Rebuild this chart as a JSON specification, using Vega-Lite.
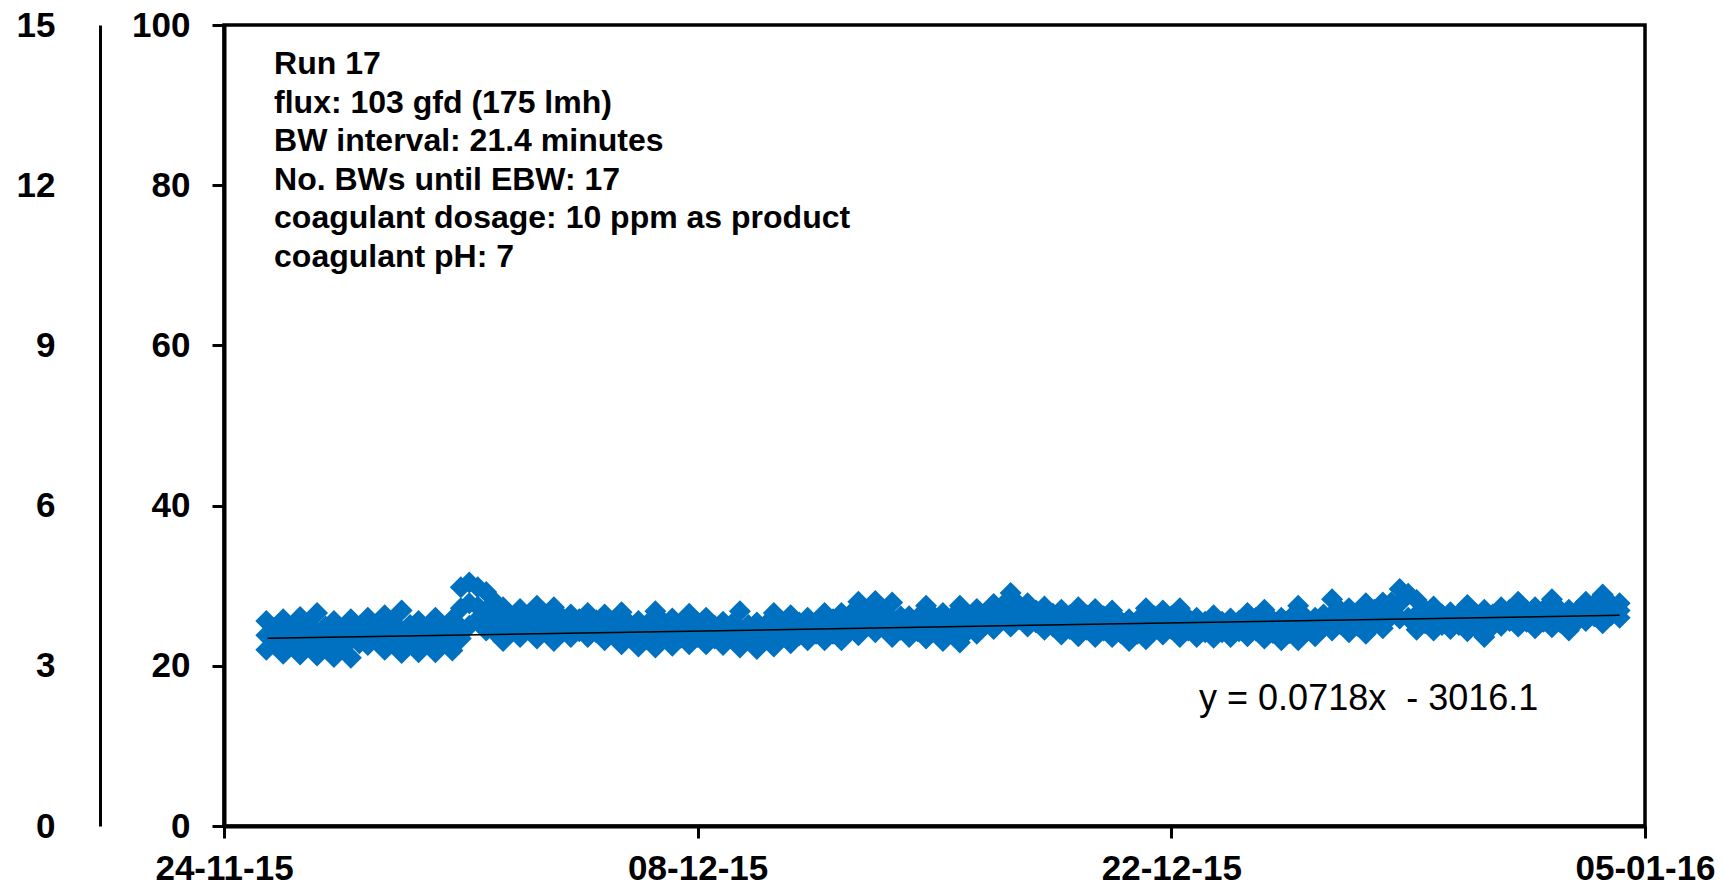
{
  "$schema": "https://vega.github.io/schema/vega-lite/v6.json",
  "width": 1421,
  "height": 801,
  "autosize": {"type": "none"},
  "padding": {"left": 224, "top": 25, "right": 80, "bottom": 62},
  "background": "white",
  "config": {"view": {"stroke": "black", "strokeWidth": 3.5}, "font": "Liberation Sans"},
  "datasets": {
    "pts": [
      {"t":"2015-11-25T06:00","v":25.6},{"t":"2015-11-25T06:00","v":23.8},{"t":"2015-11-25T06:00","v":22.0},
      {"t":"2015-11-25T12:00","v":24.7},{"t":"2015-11-25T12:00","v":22.7},
      {"t":"2015-11-25T18:00","v":25.8},{"t":"2015-11-25T18:00","v":23.6},{"t":"2015-11-25T18:00","v":21.5},
      {"t":"2015-11-26T00:00","v":24.8},{"t":"2015-11-26T00:00","v":22.6},
      {"t":"2015-11-26T06:00","v":26.1},{"t":"2015-11-26T06:00","v":23.8},{"t":"2015-11-26T06:00","v":21.4},
      {"t":"2015-11-26T12:00","v":25.1},{"t":"2015-11-26T12:00","v":22.6},
      {"t":"2015-11-26T18:00","v":26.6},{"t":"2015-11-26T18:00","v":24.0},{"t":"2015-11-26T18:00","v":21.3},
      {"t":"2015-11-27T00:00","v":24.9},{"t":"2015-11-27T00:00","v":22.4},
      {"t":"2015-11-27T06:00","v":25.6},{"t":"2015-11-27T06:00","v":23.4},{"t":"2015-11-27T06:00","v":21.1},
      {"t":"2015-11-27T12:00","v":24.5},{"t":"2015-11-27T12:00","v":22.2},
      {"t":"2015-11-27T18:00","v":25.8},{"t":"2015-11-27T18:00","v":23.4},{"t":"2015-11-27T18:00","v":21.0},
      {"t":"2015-11-28T00:00","v":24.9},{"t":"2015-11-28T00:00","v":22.8},
      {"t":"2015-11-28T06:00","v":26.0},{"t":"2015-11-28T06:00","v":24.3},{"t":"2015-11-28T06:00","v":22.6},
      {"t":"2015-11-28T12:00","v":25.2},{"t":"2015-11-28T12:00","v":23.3},
      {"t":"2015-11-28T18:00","v":26.3},{"t":"2015-11-28T18:00","v":24.2},{"t":"2015-11-28T18:00","v":22.0},
      {"t":"2015-11-29T00:00","v":25.4},{"t":"2015-11-29T00:00","v":23.0},
      {"t":"2015-11-29T06:00","v":26.9},{"t":"2015-11-29T06:00","v":24.2},{"t":"2015-11-29T06:00","v":21.6},
      {"t":"2015-11-29T12:00","v":25.1},{"t":"2015-11-29T12:00","v":22.8},
      {"t":"2015-11-29T18:00","v":25.6},{"t":"2015-11-29T18:00","v":23.6},{"t":"2015-11-29T18:00","v":21.7},
      {"t":"2015-11-30T00:00","v":24.8},{"t":"2015-11-30T00:00","v":22.7},
      {"t":"2015-11-30T06:00","v":26.0},{"t":"2015-11-30T06:00","v":23.8},{"t":"2015-11-30T06:00","v":21.7},
      {"t":"2015-11-30T12:00","v":24.9},{"t":"2015-11-30T12:00","v":22.8},
      {"t":"2015-11-30T18:00","v":25.8},{"t":"2015-11-30T18:00","v":23.8},{"t":"2015-11-30T18:00","v":21.9},
      {"t":"2015-12-01T00:00","v":29.8},{"t":"2015-12-01T00:00","v":27.2},{"t":"2015-12-01T00:00","v":24.8},{"t":"2015-12-01T00:00","v":23.4},
      {"t":"2015-12-01T06:00","v":30.4},{"t":"2015-12-01T06:00","v":27.8},{"t":"2015-12-01T06:00","v":25.0},
      {"t":"2015-12-01T12:00","v":29.8},{"t":"2015-12-01T12:00","v":27.4},{"t":"2015-12-01T12:00","v":25.8},
      {"t":"2015-12-01T18:00","v":29.2},{"t":"2015-12-01T18:00","v":26.8},{"t":"2015-12-01T18:00","v":24.4},
      {"t":"2015-12-02T00:00","v":28.0},{"t":"2015-12-02T00:00","v":26.0},{"t":"2015-12-02T00:00","v":24.2},
      {"t":"2015-12-02T06:00","v":27.3},{"t":"2015-12-02T06:00","v":25.2},{"t":"2015-12-02T06:00","v":23.1},
      {"t":"2015-12-02T12:00","v":26.2},{"t":"2015-12-02T12:00","v":24.3},
      {"t":"2015-12-02T18:00","v":27.1},{"t":"2015-12-02T18:00","v":25.4},{"t":"2015-12-02T18:00","v":23.6},
      {"t":"2015-12-03T00:00","v":26.4},{"t":"2015-12-03T00:00","v":24.5},
      {"t":"2015-12-03T06:00","v":27.5},{"t":"2015-12-03T06:00","v":25.4},{"t":"2015-12-03T06:00","v":23.4},
      {"t":"2015-12-03T12:00","v":26.4},{"t":"2015-12-03T12:00","v":24.3},
      {"t":"2015-12-03T18:00","v":27.3},{"t":"2015-12-03T18:00","v":25.2},{"t":"2015-12-03T18:00","v":23.1},
      {"t":"2015-12-04T00:00","v":26.0},{"t":"2015-12-04T00:00","v":24.2},
      {"t":"2015-12-04T06:00","v":26.4},{"t":"2015-12-04T06:00","v":25.0},{"t":"2015-12-04T06:00","v":23.6},
      {"t":"2015-12-04T12:00","v":25.8},{"t":"2015-12-04T12:00","v":24.3},
      {"t":"2015-12-04T18:00","v":26.6},{"t":"2015-12-04T18:00","v":25.1},{"t":"2015-12-04T18:00","v":23.6},
      {"t":"2015-12-05T00:00","v":25.7},{"t":"2015-12-05T00:00","v":24.2},
      {"t":"2015-12-05T06:00","v":26.4},{"t":"2015-12-05T06:00","v":24.8},{"t":"2015-12-05T06:00","v":23.2},
      {"t":"2015-12-05T12:00","v":25.6},{"t":"2015-12-05T12:00","v":23.9},
      {"t":"2015-12-05T18:00","v":26.7},{"t":"2015-12-05T18:00","v":24.7},{"t":"2015-12-05T18:00","v":22.7},
      {"t":"2015-12-06T00:00","v":25.2},{"t":"2015-12-06T00:00","v":23.5},
      {"t":"2015-12-06T06:00","v":25.6},{"t":"2015-12-06T06:00","v":24.0},{"t":"2015-12-06T06:00","v":22.4},
      {"t":"2015-12-06T12:00","v":25.2},{"t":"2015-12-06T12:00","v":23.3},
      {"t":"2015-12-06T18:00","v":26.8},{"t":"2015-12-06T18:00","v":24.6},{"t":"2015-12-06T18:00","v":22.3},
      {"t":"2015-12-07T00:00","v":25.4},{"t":"2015-12-07T00:00","v":23.4},
      {"t":"2015-12-07T06:00","v":25.9},{"t":"2015-12-07T06:00","v":24.2},{"t":"2015-12-07T06:00","v":22.5},
      {"t":"2015-12-07T12:00","v":25.3},{"t":"2015-12-07T12:00","v":23.5},
      {"t":"2015-12-07T18:00","v":26.5},{"t":"2015-12-07T18:00","v":24.6},{"t":"2015-12-07T18:00","v":22.7},
      {"t":"2015-12-08T00:00","v":25.4},{"t":"2015-12-08T00:00","v":23.6},
      {"t":"2015-12-08T06:00","v":26.0},{"t":"2015-12-08T06:00","v":24.4},{"t":"2015-12-08T06:00","v":22.7},
      {"t":"2015-12-08T12:00","v":25.0},{"t":"2015-12-08T12:00","v":23.4},
      {"t":"2015-12-08T18:00","v":25.5},{"t":"2015-12-08T18:00","v":24.0},{"t":"2015-12-08T18:00","v":22.6},
      {"t":"2015-12-09T00:00","v":25.2},{"t":"2015-12-09T00:00","v":23.4},
      {"t":"2015-12-09T06:00","v":26.8},{"t":"2015-12-09T06:00","v":24.6},{"t":"2015-12-09T06:00","v":22.3},
      {"t":"2015-12-09T12:00","v":25.1},{"t":"2015-12-09T12:00","v":23.2},
      {"t":"2015-12-09T18:00","v":25.4},{"t":"2015-12-09T18:00","v":23.8},{"t":"2015-12-09T18:00","v":22.1},
      {"t":"2015-12-10T00:00","v":25.1},{"t":"2015-12-10T00:00","v":23.2},
      {"t":"2015-12-10T06:00","v":26.6},{"t":"2015-12-10T06:00","v":24.5},{"t":"2015-12-10T06:00","v":22.4},
      {"t":"2015-12-10T12:00","v":25.5},{"t":"2015-12-10T12:00","v":23.6},
      {"t":"2015-12-10T18:00","v":26.3},{"t":"2015-12-10T18:00","v":24.6},{"t":"2015-12-10T18:00","v":22.8},
      {"t":"2015-12-11T00:00","v":25.4},{"t":"2015-12-11T00:00","v":23.8},
      {"t":"2015-12-11T06:00","v":26.0},{"t":"2015-12-11T06:00","v":24.6},{"t":"2015-12-11T06:00","v":23.2},
      {"t":"2015-12-11T12:00","v":25.5},{"t":"2015-12-11T12:00","v":24.0},
      {"t":"2015-12-11T18:00","v":26.6},{"t":"2015-12-11T18:00","v":24.9},{"t":"2015-12-11T18:00","v":23.2},
      {"t":"2015-12-12T00:00","v":25.8},{"t":"2015-12-12T00:00","v":24.0},
      {"t":"2015-12-12T06:00","v":26.6},{"t":"2015-12-12T06:00","v":24.9},{"t":"2015-12-12T06:00","v":23.2},
      {"t":"2015-12-12T12:00","v":26.4},{"t":"2015-12-12T12:00","v":24.4},
      {"t":"2015-12-12T18:00","v":28.0},{"t":"2015-12-12T18:00","v":25.9},{"t":"2015-12-12T18:00","v":23.8},
      {"t":"2015-12-13T00:00","v":27.0},{"t":"2015-12-13T00:00","v":25.0},
      {"t":"2015-12-13T06:00","v":28.1},{"t":"2015-12-13T06:00","v":26.2},{"t":"2015-12-13T06:00","v":24.2},
      {"t":"2015-12-13T12:00","v":27.0},{"t":"2015-12-13T12:00","v":24.9},
      {"t":"2015-12-13T18:00","v":27.9},{"t":"2015-12-13T18:00","v":25.8},{"t":"2015-12-13T18:00","v":23.6},
      {"t":"2015-12-14T00:00","v":26.2},{"t":"2015-12-14T00:00","v":24.5},
      {"t":"2015-12-14T06:00","v":26.2},{"t":"2015-12-14T06:00","v":24.9},{"t":"2015-12-14T06:00","v":23.6},
      {"t":"2015-12-14T12:00","v":26.0},{"t":"2015-12-14T12:00","v":24.3},
      {"t":"2015-12-14T18:00","v":27.5},{"t":"2015-12-14T18:00","v":25.4},{"t":"2015-12-14T18:00","v":23.4},
      {"t":"2015-12-15T00:00","v":26.1},{"t":"2015-12-15T00:00","v":24.2},
      {"t":"2015-12-15T06:00","v":26.6},{"t":"2015-12-15T06:00","v":24.8},{"t":"2015-12-15T06:00","v":23.1},
      {"t":"2015-12-15T12:00","v":26.0},{"t":"2015-12-15T12:00","v":24.0},
      {"t":"2015-12-15T18:00","v":27.5},{"t":"2015-12-15T18:00","v":25.2},{"t":"2015-12-15T18:00","v":22.9},
      {"t":"2015-12-16T00:00","v":26.3},{"t":"2015-12-16T00:00","v":24.4},
      {"t":"2015-12-16T06:00","v":27.1},{"t":"2015-12-16T06:00","v":25.6},{"t":"2015-12-16T06:00","v":24.0},
      {"t":"2015-12-16T12:00","v":26.6},{"t":"2015-12-16T12:00","v":25.1},
      {"t":"2015-12-16T18:00","v":27.7},{"t":"2015-12-16T18:00","v":26.2},{"t":"2015-12-16T18:00","v":24.6},
      {"t":"2015-12-17T00:00","v":27.5},{"t":"2015-12-17T00:00","v":25.7},
      {"t":"2015-12-17T06:00","v":29.1},{"t":"2015-12-17T06:00","v":27.0},{"t":"2015-12-17T06:00","v":24.9},
      {"t":"2015-12-17T12:00","v":27.6},{"t":"2015-12-17T12:00","v":25.8},
      {"t":"2015-12-17T18:00","v":27.8},{"t":"2015-12-17T18:00","v":26.4},{"t":"2015-12-17T18:00","v":24.9},
      {"t":"2015-12-18T00:00","v":26.9},{"t":"2015-12-18T00:00","v":25.4},
      {"t":"2015-12-18T06:00","v":27.4},{"t":"2015-12-18T06:00","v":26.0},{"t":"2015-12-18T06:00","v":24.5},
      {"t":"2015-12-18T12:00","v":26.5},{"t":"2015-12-18T12:00","v":24.9},
      {"t":"2015-12-18T18:00","v":27.0},{"t":"2015-12-18T18:00","v":25.4},{"t":"2015-12-18T18:00","v":23.9},
      {"t":"2015-12-19T00:00","v":26.3},{"t":"2015-12-19T00:00","v":24.6},
      {"t":"2015-12-19T06:00","v":27.3},{"t":"2015-12-19T06:00","v":25.5},{"t":"2015-12-19T06:00","v":23.7},
      {"t":"2015-12-19T12:00","v":26.3},{"t":"2015-12-19T12:00","v":24.5},
      {"t":"2015-12-19T18:00","v":27.1},{"t":"2015-12-19T18:00","v":25.4},{"t":"2015-12-19T18:00","v":23.6},
      {"t":"2015-12-20T00:00","v":26.2},{"t":"2015-12-20T00:00","v":24.4},
      {"t":"2015-12-20T06:00","v":26.9},{"t":"2015-12-20T06:00","v":25.2},{"t":"2015-12-20T06:00","v":23.6},
      {"t":"2015-12-20T12:00","v":25.6},{"t":"2015-12-20T12:00","v":24.1},
      {"t":"2015-12-20T18:00","v":25.8},{"t":"2015-12-20T18:00","v":24.4},{"t":"2015-12-20T18:00","v":23.1},
      {"t":"2015-12-21T00:00","v":25.7},{"t":"2015-12-21T00:00","v":24.0},
      {"t":"2015-12-21T06:00","v":27.2},{"t":"2015-12-21T06:00","v":25.2},{"t":"2015-12-21T06:00","v":23.3},
      {"t":"2015-12-21T12:00","v":26.2},{"t":"2015-12-21T12:00","v":24.5},
      {"t":"2015-12-21T18:00","v":26.9},{"t":"2015-12-21T18:00","v":25.4},{"t":"2015-12-21T18:00","v":23.9},
      {"t":"2015-12-22T00:00","v":26.2},{"t":"2015-12-22T00:00","v":24.6},
      {"t":"2015-12-22T06:00","v":27.2},{"t":"2015-12-22T06:00","v":25.4},{"t":"2015-12-22T06:00","v":23.6},
      {"t":"2015-12-22T12:00","v":25.9},{"t":"2015-12-22T12:00","v":24.4},
      {"t":"2015-12-22T18:00","v":26.0},{"t":"2015-12-22T18:00","v":24.8},{"t":"2015-12-22T18:00","v":23.6},
      {"t":"2015-12-23T00:00","v":25.5},{"t":"2015-12-23T00:00","v":24.2},
      {"t":"2015-12-23T06:00","v":26.3},{"t":"2015-12-23T06:00","v":24.9},{"t":"2015-12-23T06:00","v":23.5},
      {"t":"2015-12-23T12:00","v":25.5},{"t":"2015-12-23T12:00","v":24.2},
      {"t":"2015-12-23T18:00","v":25.9},{"t":"2015-12-23T18:00","v":24.8},{"t":"2015-12-23T18:00","v":23.6},
      {"t":"2015-12-24T00:00","v":25.6},{"t":"2015-12-24T00:00","v":24.3},
      {"t":"2015-12-24T06:00","v":26.6},{"t":"2015-12-24T06:00","v":25.2},{"t":"2015-12-24T06:00","v":23.7},
      {"t":"2015-12-24T12:00","v":26.0},{"t":"2015-12-24T12:00","v":24.4},
      {"t":"2015-12-24T18:00","v":27.0},{"t":"2015-12-24T18:00","v":25.2},{"t":"2015-12-24T18:00","v":23.4},
      {"t":"2015-12-25T00:00","v":25.7},{"t":"2015-12-25T00:00","v":24.1},
      {"t":"2015-12-25T06:00","v":26.0},{"t":"2015-12-25T06:00","v":24.6},{"t":"2015-12-25T06:00","v":23.2},
      {"t":"2015-12-25T12:00","v":25.9},{"t":"2015-12-25T12:00","v":24.1},
      {"t":"2015-12-25T18:00","v":27.5},{"t":"2015-12-25T18:00","v":25.4},{"t":"2015-12-25T18:00","v":23.2},
      {"t":"2015-12-26T00:00","v":25.9},{"t":"2015-12-26T00:00","v":24.3},
      {"t":"2015-12-26T06:00","v":26.0},{"t":"2015-12-26T06:00","v":24.8},{"t":"2015-12-26T06:00","v":23.7},
      {"t":"2015-12-26T12:00","v":26.4},{"t":"2015-12-26T12:00","v":24.8},
      {"t":"2015-12-26T18:00","v":28.3},{"t":"2015-12-26T18:00","v":26.4},{"t":"2015-12-26T18:00","v":24.4},
      {"t":"2015-12-27T00:00","v":26.9},{"t":"2015-12-27T00:00","v":25.2},
      {"t":"2015-12-27T06:00","v":27.2},{"t":"2015-12-27T06:00","v":25.7},{"t":"2015-12-27T06:00","v":24.2},
      {"t":"2015-12-27T12:00","v":26.7},{"t":"2015-12-27T12:00","v":25.0},
      {"t":"2015-12-27T18:00","v":27.8},{"t":"2015-12-27T18:00","v":25.9},{"t":"2015-12-27T18:00","v":24.0},
      {"t":"2015-12-28T00:00","v":27.0},{"t":"2015-12-28T00:00","v":25.2},
      {"t":"2015-12-28T06:00","v":27.9},{"t":"2015-12-28T06:00","v":26.3},{"t":"2015-12-28T06:00","v":24.7},
      {"t":"2015-12-28T12:00","v":27.9},{"t":"2015-12-28T12:00","v":26.2},
      {"t":"2015-12-28T18:00","v":29.6},{"t":"2015-12-28T18:00","v":27.8},{"t":"2015-12-28T18:00","v":25.9},
      {"t":"2015-12-29T00:00","v":29.0},{"t":"2015-12-29T00:00","v":26.0},
      {"t":"2015-12-29T06:00","v":28.2},{"t":"2015-12-29T06:00","v":26.4},{"t":"2015-12-29T06:00","v":24.5},
      {"t":"2015-12-29T12:00","v":27.0},{"t":"2015-12-29T12:00","v":25.3},
      {"t":"2015-12-29T18:00","v":27.4},{"t":"2015-12-29T18:00","v":25.9},{"t":"2015-12-29T18:00","v":24.4},
      {"t":"2015-12-30T00:00","v":26.4},{"t":"2015-12-30T00:00","v":25.1},
      {"t":"2015-12-30T06:00","v":26.7},{"t":"2015-12-30T06:00","v":25.6},{"t":"2015-12-30T06:00","v":24.6},
      {"t":"2015-12-30T12:00","v":26.5},{"t":"2015-12-30T12:00","v":25.1},
      {"t":"2015-12-30T18:00","v":27.6},{"t":"2015-12-30T18:00","v":26.0},{"t":"2015-12-30T18:00","v":24.3},
      {"t":"2015-12-31T00:00","v":26.5},{"t":"2015-12-31T00:00","v":24.8},
      {"t":"2015-12-31T06:00","v":27.0},{"t":"2015-12-31T06:00","v":25.3},{"t":"2015-12-31T06:00","v":23.6},
      {"t":"2015-12-31T12:00","v":26.4},{"t":"2015-12-31T12:00","v":25.0},
      {"t":"2015-12-31T18:00","v":27.3},{"t":"2015-12-31T18:00","v":26.2},{"t":"2015-12-31T18:00","v":25.0},
      {"t":"2016-01-01T00:00","v":27.0},{"t":"2016-01-01T00:00","v":25.6},
      {"t":"2016-01-01T06:00","v":28.0},{"t":"2016-01-01T06:00","v":26.4},{"t":"2016-01-01T06:00","v":24.9},
      {"t":"2016-01-01T12:00","v":26.9},{"t":"2016-01-01T12:00","v":25.5},
      {"t":"2016-01-01T18:00","v":27.3},{"t":"2016-01-01T18:00","v":26.0},{"t":"2016-01-01T18:00","v":24.7},
      {"t":"2016-01-02T00:00","v":27.0},{"t":"2016-01-02T00:00","v":25.5},
      {"t":"2016-01-02T06:00","v":28.3},{"t":"2016-01-02T06:00","v":26.6},{"t":"2016-01-02T06:00","v":24.8},
      {"t":"2016-01-02T12:00","v":26.9},{"t":"2016-01-02T12:00","v":25.4},
      {"t":"2016-01-02T18:00","v":27.0},{"t":"2016-01-02T18:00","v":25.7},{"t":"2016-01-02T18:00","v":24.4},
      {"t":"2016-01-03T00:00","v":26.9},{"t":"2016-01-03T00:00","v":25.6},
      {"t":"2016-01-03T06:00","v":28.0},{"t":"2016-01-03T06:00","v":26.8},{"t":"2016-01-03T06:00","v":25.6},
      {"t":"2016-01-03T12:00","v":27.7},{"t":"2016-01-03T12:00","v":26.2},
      {"t":"2016-01-03T18:00","v":28.9},{"t":"2016-01-03T18:00","v":27.1},{"t":"2016-01-03T18:00","v":25.3},
      {"t":"2016-01-04T00:00","v":27.7},{"t":"2016-01-04T00:00","v":26.3},
      {"t":"2016-01-04T06:00","v":27.8},{"t":"2016-01-04T06:00","v":26.9},{"t":"2016-01-04T06:00","v":26.0}
    ],
    "trend": [
      {"t":"2015-11-25T07:00","v":23.43},
      {"t":"2016-01-04T06:00","v":26.30}
    ],
    "aux": [{"s":0},{"s":15}]
  },
  "layer": [
    {
      "layer": [
        {
          "data": {"name": "pts"},
          "mark": {"type": "point", "shape": "diamond", "filled": true, "size": 484, "color": "#0070C0", "opacity": 1, "strokeWidth": 0},
          "encoding": {
            "x": {
              "field": "t", "type": "temporal",
              "scale": {"domain": [{"year": 2015, "month": 11, "date": 24}, {"year": 2016, "month": 1, "date": 5}]},
              "axis": {
                "values": [{"year": 2015, "month": 11, "date": 24}, {"year": 2015, "month": 12, "date": 8}, {"year": 2015, "month": 12, "date": 22}, {"year": 2016, "month": 1, "date": 5}],
                "format": "%d-%m-%y", "title": null, "grid": false,
                "labelFont": "Liberation Sans", "labelFontSize": 35, "labelFontWeight": "bold", "labelColor": "black",
                "labelFlush": false, "labelOverlap": false, "labelBound": false, "labelPadding": 13,
                "tickSize": 12, "tickWidth": 3, "tickColor": "black",
                "domainColor": "black", "domainWidth": 4
              }
            },
            "y": {
              "field": "v", "type": "quantitative",
              "scale": {"domain": [0, 100], "nice": false},
              "axis": {
                "values": [0, 20, 40, 60, 80, 100], "title": null, "grid": false,
                "labelFont": "Liberation Sans", "labelFontSize": 35, "labelFontWeight": "bold", "labelColor": "black",
                "labelFlush": false, "labelOverlap": false, "labelPadding": 22,
                "tickSize": 12, "tickWidth": 3, "tickColor": "black",
                "domainColor": "black", "domainWidth": 4
              }
            }
          }
        },
        {
          "data": {"name": "trend"},
          "mark": {"type": "line", "color": "black", "strokeWidth": 1.5},
          "encoding": {
            "x": {"field": "t", "type": "temporal"},
            "y": {"field": "v", "type": "quantitative"}
          }
        },
        {
          "data": {"values": [{}]},
          "mark": {
            "type": "text", "align": "left", "baseline": "top", "lineHeight": 38.5,
            "font": "Liberation Sans", "fontSize": 32, "fontWeight": "bold", "color": "black",
            "text": ["Run 17", "flux: 103 gfd (175 lmh)", "BW interval: 21.4 minutes", "No. BWs until EBW: 17", "coagulant dosage: 10 ppm as product", "coagulant pH: 7"]
          },
          "encoding": {
            "x": {"datum": {"year": 2015, "month": 11, "date": 25, "hours": 11, "minutes": 30}, "type": "temporal"},
            "y": {"datum": 97.0, "type": "quantitative"}
          }
        },
        {
          "data": {"values": [{}]},
          "mark": {
            "type": "text", "align": "left", "baseline": "middle",
            "font": "Liberation Sans", "fontSize": 36, "fontWeight": "normal", "color": "black",
            "text": "y = 0.0718x\u00a0 - 3016.1"
          },
          "encoding": {
            "x": {"datum": {"year": 2015, "month": 12, "date": 22, "hours": 19, "minutes": 40}, "type": "temporal"},
            "y": {"datum": 15.85, "type": "quantitative"}
          }
        }
      ]
    },
    {
      "data": {"name": "aux"},
      "mark": {"type": "point", "opacity": 0},
      "encoding": {
        "y": {
          "field": "s", "type": "quantitative",
          "scale": {"domain": [0, 15], "nice": false},
          "axis": {
            "orient": "left", "offset": 124, "values": [0, 3, 6, 9, 12, 15], "title": null, "grid": false,
            "labelFont": "Liberation Sans", "labelFontSize": 35, "labelFontWeight": "bold", "labelColor": "black",
            "labelFlush": false, "labelOverlap": false, "labelPadding": 45,
            "ticks": false, "tickSize": 0,
            "domainColor": "black", "domainWidth": 3
          }
        }
      }
    }
  ],
  "resolve": {"scale": {"y": "independent"}}
}
